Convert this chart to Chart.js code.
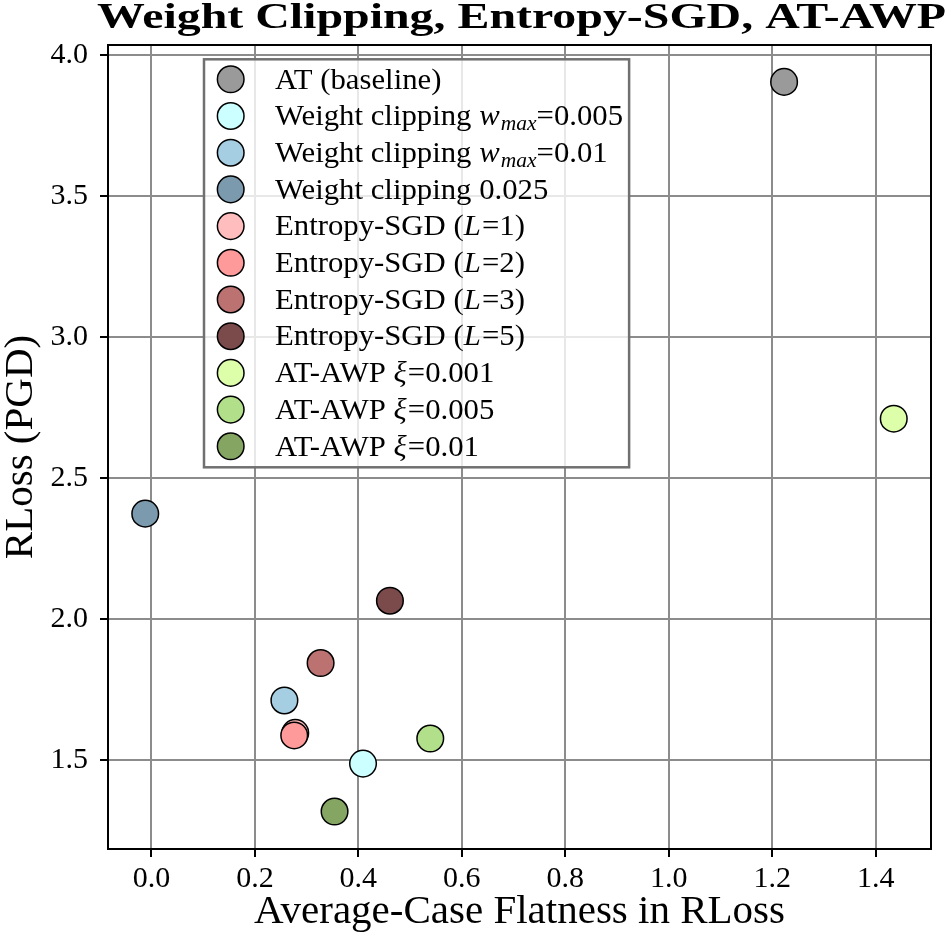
<!DOCTYPE html>
<html><head><meta charset="utf-8">
<script src="https://cdn.jsdelivr.net/npm/chart.js@4.4.1/dist/chart.umd.min.js"></script>
<style>html,body{margin:0;padding:0;background:#fff;} #wrap{width:951px;height:939px;}</style>
</head><body><div id="wrap"><canvas id="c" width="951" height="939"></canvas></div>
<script>
// ---- data ----
const seriesLabels = [
  'AT (baseline)',
  'Weight clipping $w_{max}$=0.005',
  'Weight clipping $w_{max}$=0.01',
  'Weight clipping 0.025',
  'Entropy-SGD ($L$=1)',
  'Entropy-SGD ($L$=2)',
  'Entropy-SGD ($L$=3)',
  'Entropy-SGD ($L$=5)',
  'AT-AWP $ξ$=0.001',
  'AT-AWP $ξ$=0.005',
  'AT-AWP $ξ$=0.01'
];
const flatness = [1.223, 0.409, 0.257, -0.012, 0.278, 0.276, 0.327, 0.461, 1.435, 0.539, 0.354];
const rlossPGD = [3.905, 1.486, 1.710, 2.373, 1.595, 1.586, 1.843, 2.064, 2.710, 1.575, 1.316];
const seriesColors = ['#9a9a9a','#ccffff','#a6cee2','#7b9aae','#ffbdbd','#ff9a9a','#bd7272','#7b4b4c','#ddffaa','#b2df8a','#85a663'];
const xTickValues = [0.0, 0.2, 0.4, 0.6, 0.8, 1.0, 1.2, 1.4];
const yTickValues = [1.5, 2.0, 2.5, 3.0, 3.5, 4.0];
const titleText = 'Weight Clipping, Entropy-SGD, AT-AWP';
const xAxisLabel = 'Average-Case Flatness in RLoss';
const yAxisLabel = 'RLoss (PGD)';

// ---- styling ----
const FONT = '"Liberation Serif", "Times New Roman", serif';
const POINT_R = 13.3;
const LEGEND_SX = 1.06;

function drawPiece(ctx, str, x, y, sx){
  ctx.save(); ctx.translate(x, y); ctx.scale(sx, 1); ctx.fillText(str, 0, 0); ctx.restore();
  return ctx.measureText(str).width * sx;
}

function drawRich(ctx, text, x, y, size, sx){
  const parts = text.split('$');
  parts.forEach((p,i)=>{
    if(i % 2 === 0){
      ctx.font = size + 'px ' + FONT;
      x += drawPiece(ctx, p, x, y, sx);
    } else {
      const re = /_\{([^}]*)\}|([^_]+)/g; let m;
      while((m = re.exec(p))){
        if(m[1] !== undefined){
          const s = size*0.7;
          ctx.font = 'italic ' + s + 'px ' + FONT;
          x += drawPiece(ctx, m[1], x, y + size*0.17, sx);
        } else {
          ctx.font = 'italic ' + size + 'px ' + FONT;
          x += drawPiece(ctx, m[2], x, y, sx) + size*0.04;
        }
      }
    }
  });
  return x;
}

const decorPlugin = {
  id: 'decor',
  afterDatasetsDraw(chart){
    const ctx = chart.ctx, a = chart.chartArea;
    ctx.save();
    // frame
    ctx.strokeStyle = '#000'; ctx.lineWidth = 2;
    ctx.strokeRect(a.left, a.top, a.right - a.left, a.bottom - a.top);
    // legend
    const size = 29, x0 = 204, y0 = 59.3, rowH = 36.7, firstRow = 79.3;
    const markerX = 230.7, textX = 275;
    const ds = chart.data.datasets;
    ctx.fillStyle = 'rgba(0,0,0,0)';
    let maxW = 0;
    ds.forEach(d => { const w = drawRich(ctx, d.label, textX, -1000, size, LEGEND_SX) - textX; if (w > maxW) maxW = w; });
    const boxW = textX + maxW + 6 - x0;
    const boxH = (firstRow - y0) * 2 + rowH*(ds.length-1) + 1;
    ctx.fillStyle = 'rgba(255,255,255,0.8)';
    ctx.fillRect(x0, y0, boxW, boxH);
    ctx.strokeStyle = '#707070'; ctx.lineWidth = 2.5;
    ctx.strokeRect(x0, y0, boxW, boxH);
    ds.forEach((d, i) => {
      const cy = firstRow + i*rowH;
      ctx.beginPath(); ctx.arc(markerX, cy, POINT_R, 0, Math.PI*2);
      ctx.fillStyle = d.backgroundColor; ctx.fill();
      ctx.lineWidth = 1.5; ctx.strokeStyle = '#000'; ctx.stroke();
      ctx.fillStyle = '#000'; ctx.textBaseline = 'alphabetic'; ctx.textAlign = 'left';
      drawRich(ctx, d.label, textX, cy + size*0.32, size, LEGEND_SX);
    });
    ctx.restore();
  },
  afterDraw(chart){
    const ctx = chart.ctx;
    ctx.save();
    ctx.font = 'bold 36px ' + FONT;
    ctx.fillStyle = '#000'; ctx.textAlign = 'center'; ctx.textBaseline = 'alphabetic';
    const w = ctx.measureText(titleText).width;
    ctx.translate(521.5, 28);
    ctx.scale(849 / w, 1);
    ctx.fillText(titleText, 0, 0);
    ctx.restore();
  }
};

const datasets = seriesLabels.map((lab, i) => ({
  label: lab,
  data: [{x: flatness[i], y: rlossPGD[i]}],
  backgroundColor: seriesColors[i],
  borderColor: '#000',
  borderWidth: 1.5,
  pointRadius: POINT_R,
  pointHoverRadius: POINT_R,
  order: -i
}));

const gridCommon = {color: '#8c8c8c', lineWidth: 2, tickColor: '#000', tickLength: 8, tickWidth: 2};

new Chart(document.getElementById('c'), {
  type: 'scatter',
  data: { datasets },
  options: {
    responsive: false, animation: false, devicePixelRatio: 1,
    layout: { padding: { top: 45, right: 20, left: 0, bottom: 0 } },
    plugins: { legend: { display: false }, tooltip: { enabled: false }, title: { display: false } },
    scales: {
      x: {
        type: 'linear', min: -0.084, max: 1.507,
        afterBuildTicks: s => { s.ticks = xTickValues.map(v => ({value: v})); },
        afterFit: s => { s.height = 90; },
        grid: gridCommon,
        border: { display: true, color: '#000', width: 2 },
        ticks: { color: '#000', font: { family: FONT, size: 30 }, padding: 4, maxRotation: 0, autoSkip: false,
                 callback: v => Number(v).toFixed(1) },
        title: { display: true, text: xAxisLabel, color: '#000', font: { family: FONT, size: 41, lineHeight: 1.1 },
                 padding: { top: 0, bottom: 4 } }
      },
      y: {
        type: 'linear', min: 1.183, max: 4.036,
        afterBuildTicks: s => { s.ticks = yTickValues.map(v => ({value: v})); },
        afterFit: s => { s.width = 108; },
        grid: gridCommon,
        border: { display: true, color: '#000', width: 2 },
        ticks: { color: '#000', font: { family: FONT, size: 30 }, padding: 12, autoSkip: false,
                 callback: v => Number(v).toFixed(1) },
        title: { display: true, text: yAxisLabel, color: '#000', font: { family: FONT, size: 41, lineHeight: 1.05 },
                 padding: { top: 0, bottom: 0 } }
      }
    }
  },
  plugins: [decorPlugin]
});
</script>
</body></html>
